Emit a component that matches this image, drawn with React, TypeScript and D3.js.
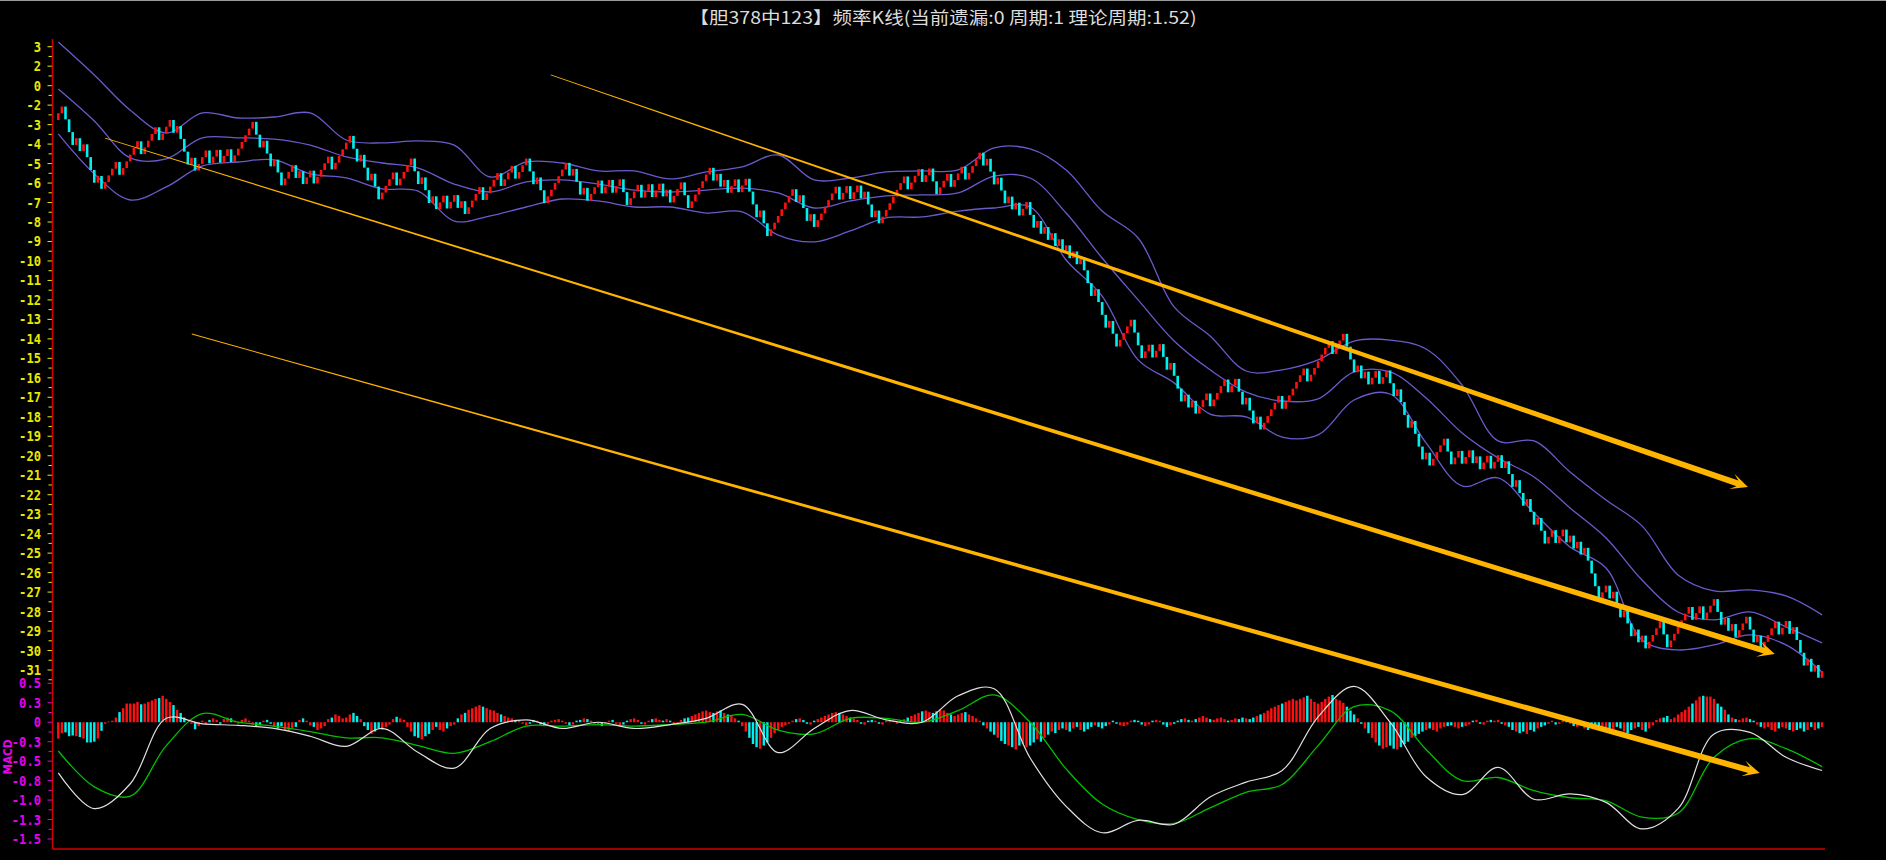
import { useEffect } from 'react'
import * as d3 from 'd3'

const TITLE = '【胆378中123】频率K线(当前遗漏:0 周期:1 理论周期:1.52)'

// one char per K bar: H = 中 (red, up), M = 遗漏 (cyan, down)
const stepsA = 'H' + 'HMMMHMHMMMHM' + 'HHHHMHHH' + 'HHMHHHHMHHH' + 'MHMMMHMHH' + 'HMHHMHHMHH' + 'HHHH' +
  'MMHMMHMMHH' + 'HMHMHHMH' + 'HHHMHHHH' + 'HMMHMMHMM' + 'HHHHMHHHH' + 'MMHMMHM'
const stepsB = 'HHMHH' + 'MHMH' + 'HHHMHHHH' + 'M' + 'HHHMHHH' + 'MMHMM' + 'HH' + 'HHHH' + 'MHMMHMH' +
  'HHMHHMH' + 'HMMH' + 'HHMH' + 'HMHHMHMHHH' + 'MM' + 'HHHHHH' + 'MHMHMH' + 'HMHH' + 'MMMHMM'
const stepsC = 'HHHHHHH' + 'MHMMHMH' + 'HHHHH' + 'MHHMHHMH' + 'MMHM' + 'HHHHH' + 'HHMHHHMHH' + 'MM' +
  'HHHMHHHMHHHH' + 'MHMMHMMHMHMHHM' + 'MHMHMHMHMHMHMH' + 'MMMHMMMHMM' + 'HHHH' + 'MMM' + 'HHMHH'
const stepsD = 'MMHMMMHM' + 'HMHHHMHHHHMHH' + 'MMHMMHM' + 'HHHHHMHHHHHHMHHHHHHMHHH' + 'MMMHMHM' + 'HHMHH' +
  'MMHMMMHMMMHM' + 'HHHH' + 'MM' + 'HHMHH' + 'MHM' + 'HHMHHMH'
const stepsE = 'MMHMMHMMHMMH' + 'HMHHMHMHMH' + 'MMMMHHMHMMHMMHMHM' + 'HHHHMMHHH' + 'HHHMHHMHHH' +
  'MMHMHMHHHMMHMH' + 'HHHMHHMH' + 'MMMHMHMH'

const START_OPEN = -2.76
const HIT_STEP = 0.344
const MISS_STEP = 0.657

const priceTickLabels = ['3', '2', '0', '-2', '-3', '-4', '-5', '-6', '-7', '-8', '-9', '-10', '-11', '-12',
  '-13', '-14', '-15', '-16', '-17', '-18', '-19', '-20', '-21', '-22', '-23', '-24', '-25', '-26', '-27',
  '-28', '-29', '-30', '-31']
const macdTickLabels = ['0.5', '0.3', '0', '-0.3', '-0.5', '-0.8', '-1.0', '-1.3', '-1.5']

// bollinger bands, one value every 10 bars
const bollUpper = [1.24, -0.45, -2.26, -3.43, -2.40, -2.66, -2.61, -2.40, -3.79, -3.94, -3.84, -4.05, -5.69,
  -4.92, -4.97, -5.38, -5.38, -5.79, -5.43, -5.17, -4.56, -5.84, -5.74, -5.43, -5.38, -5.33, -4.20, -4.25,
  -5.33, -7.44, -8.82, -12.36, -13.85, -15.65, -15.59, -15.08, -14.11, -14.06, -14.52, -16.37, -19.24,
  -19.24, -20.83, -22.27, -23.60, -26.12, -26.94, -26.89, -27.20, -28.17]
const bollMid = [-1.17, -2.81, -4.71, -4.76, -3.68, -3.68, -3.74, -4.05, -4.66, -4.97, -5.23, -6.05, -6.46,
  -5.94, -5.84, -6.05, -6.36, -6.46, -6.36, -6.26, -6.51, -7.28, -6.92, -6.66, -6.61, -6.51, -5.64, -5.74,
  -7.54, -9.85, -12.00, -14.11, -15.59, -16.73, -17.19, -17.08, -15.70, -15.70, -17.03, -18.83, -20.11,
  -21.09, -22.68, -24.22, -26.38, -28.02, -28.43, -28.02, -28.79, -29.61]
const bollLower = [-3.48, -5.53, -6.87, -6.20, -5.12, -4.92, -4.81, -5.53, -5.74, -6.30, -6.41, -7.95, -7.69,
  -7.23, -6.82, -6.92, -7.23, -7.23, -7.54, -7.48, -8.67, -9.02, -8.46, -7.79, -7.74, -7.44, -7.28, -7.23,
  -9.95, -11.80, -15.08, -16.26, -17.86, -18.01, -19.04, -18.93, -17.14, -16.83, -19.34, -21.55, -21.14,
  -22.94, -24.68, -25.76, -29.46, -29.97, -29.71, -29.20, -29.71, -31.10]

// MACD lines, one value every 10 bars
const difLine = [-0.65, -1.11, -0.79, 0.05, -0.02, -0.04, -0.08, -0.18, -0.31, -0.08, -0.39, -0.59, -0.08,
  0.03, -0.08, 0, -0.08, -0.03, 0.05, 0.23, -0.39, -0.08, 0.15, 0.03, 0, 0.34, 0.43, -0.46, -1.08, -1.42,
  -1.26, -1.31, -0.96, -0.77, -0.62, 0.07, 0.46, 0, -0.70, -0.93, -0.58, -0.99, -0.92, -1.03, -1.37, -1.11,
  -0.15, -0.13, -0.45, -0.62]
const deaLine = [-0.37, -0.83, -0.95, -0.30, 0.11, 0, -0.05, -0.12, -0.2, -0.2, -0.3, -0.4, -0.25, -0.05,
  -0.05, -0.03, -0.05, -0.03, 0, 0.1, -0.1, -0.15, 0.05, 0.05, 0, 0.15, 0.35, 0, -0.6, -1.05, -1.25, -1.3,
  -1.1, -0.9, -0.8, -0.3, 0.2, 0.15, -0.35, -0.75, -0.71, -0.88, -0.97, -1.01, -1.22, -1.17, -0.45, -0.21,
  -0.34, -0.57]

// MACD histogram, one value per bar
const macdHist = [
  -0.21, -0.14, -0.13, -0.18, -0.17, -0.18, -0.19, -0.21, -0.26, -0.26,
  -0.25, -0.21, -0.11, -0.02, 0.01, 0.02, 0.06, 0.13, 0.18, 0.24,
  0.24, 0.24, 0.26, 0.23, 0.24, 0.26, 0.28, 0.30, 0.31, 0.34,
  0.30, 0.26, 0.22, 0.16, 0.12, 0.06, 0.00, -0.02, -0.09, -0.05,
  0.02, -0.03, 0.03, 0.05, 0.03, -0.02, 0.04, 0.06, 0.05, 0.02,
  -0.02, 0.03, 0.05, 0.02, -0.03, -0.05, -0.04, 0.02, 0.03, -0.02,
  -0.06, -0.08, -0.05, -0.1, -0.12, -0.08, -0.06, 0.03, 0.05, 0.02,
  -0.04, -0.06, -0.1, -0.08, -0.05, 0.04, 0.06, 0.1, 0.08, 0.05,
  0.06, 0.1, 0.12, 0.08, 0.04, -0.05, -0.1, -0.15, -0.12, -0.08,
  -0.1, -0.06, -0.03, 0.04, 0.07, 0.05, 0.03, -0.06, -0.12, -0.18,
  -0.2, -0.22, -0.18, -0.15, -0.1, -0.06, -0.1, -0.12, -0.08, -0.05,
  -0.03, 0.05, 0.1, 0.12, 0.16, 0.18, 0.2, 0.22, 0.2, 0.18,
  0.16, 0.15, 0.12, 0.1, 0.08, 0.06, 0.05, 0.03, 0.02, -0.02,
  -0.04, -0.02, 0.03, 0.02, -0.03, -0.05, -0.02, 0.02, 0.03, 0.04,
  0.02, -0.02, -0.04, -0.03, 0.02, 0.03, 0.05, 0.04, 0.02, -0.02,
  -0.03, -0.05, -0.02, 0.02, 0.03, -0.02, -0.04, -0.03, 0.02, 0.04,
  0.05, 0.03, -0.02, -0.03, 0.02, 0.04, 0.05, 0.03, 0.02, 0.04,
  0.02, -0.03, -0.02, 0.03, 0.05, 0.06, 0.08, 0.1, 0.12, 0.14,
  0.15, 0.13, 0.12, 0.14, 0.15, 0.12, 0.1, 0.08, 0.05, 0.02,
  -0.05, -0.12, -0.2, -0.28, -0.32, -0.34, -0.3, -0.26, -0.2, -0.14,
  -0.1, -0.06, -0.04, -0.02, 0.02, 0.04, 0.05, 0.03, -0.02, -0.03,
  0.02, 0.04, 0.06, 0.08, 0.1, 0.12, 0.13, 0.12, 0.1, 0.08,
  0.06, 0.05, 0.03, -0.02, -0.03, 0.02, 0.03, 0.02, -0.02, -0.03,
  0.02, 0.03, 0.02, -0.02, 0.02, 0.04, 0.06, 0.08, 0.1, 0.12,
  0.14, 0.15, 0.13, 0.12, 0.14, 0.16, 0.15, 0.12, 0.1, 0.08,
  0.1, 0.12, 0.13, 0.1, 0.08, 0.05, 0.02, -0.04, -0.08, -0.12,
  -0.16, -0.2, -0.24, -0.28, -0.3, -0.32, -0.35, -0.3, -0.28, -0.32,
  -0.3, -0.26, -0.22, -0.25, -0.2, -0.16, -0.12, -0.14, -0.1, -0.08,
  -0.1, -0.12, -0.08, -0.06, -0.1, -0.12, -0.09, -0.06, -0.04, -0.06,
  -0.08, -0.05, -0.03, 0.02, -0.02, -0.04, -0.05, -0.03, 0.02, 0.03,
  0.02, -0.03, -0.05, -0.03, 0.02, 0.03, 0.02, -0.03, -0.06, -0.04,
  -0.02, 0.02, 0.04, 0.05, 0.03, 0.02, 0.04, 0.06, 0.08, 0.06,
  0.04, 0.03, 0.05, 0.06, 0.04, 0.02, 0.03, 0.05, 0.04, 0.06,
  0.05, 0.04, 0.06, 0.08, 0.1, 0.12, 0.15, 0.18, 0.2, 0.22,
  0.24, 0.26, 0.28, 0.3, 0.28, 0.3, 0.32, 0.34, 0.3, 0.26,
  0.24, 0.26, 0.3, 0.33, 0.35, 0.3, 0.28, 0.25, 0.2, 0.15,
  0.1, 0.05, -0.02, -0.08, -0.14, -0.2, -0.26, -0.3, -0.34, -0.32,
  -0.3, -0.34, -0.35, -0.32, -0.28, -0.25, -0.2, -0.18, -0.15, -0.12,
  -0.1, -0.08, -0.1, -0.12, -0.08, -0.06, -0.05, -0.04, -0.06, -0.08,
  -0.06, -0.05, -0.03, 0.02, 0.03, -0.02, -0.03, 0.02, 0.03, 0.02,
  0.03, -0.02, -0.04, -0.06, -0.1, -0.12, -0.14, -0.12, -0.15, -0.1,
  -0.12, -0.08, -0.06, -0.04, -0.02, 0.02, -0.03, -0.02, 0.02, 0.03,
  -0.02, -0.05, -0.06, -0.04, -0.08, -0.1, -0.06, -0.05, -0.08, -0.1,
  -0.08, -0.12, -0.1, -0.06, -0.08, -0.12, -0.14, -0.1, -0.08, -0.06,
  -0.1, -0.12, -0.08, -0.04, 0.03, 0.05, 0.06, 0.08, 0.04, 0.06,
  0.1, 0.13, 0.16, 0.2, 0.24, 0.28, 0.33, 0.34, 0.33, 0.33,
  0.3, 0.24, 0.2, 0.16, 0.1, 0.06, 0.04, 0.03, 0.05, 0.06,
  0.04, 0.02, -0.03, -0.06, -0.08, -0.06, -0.1, -0.12, -0.08, -0.06,
  -0.08, -0.1, -0.12, -0.1, -0.08, -0.12, -0.1, -0.06, -0.1, -0.08,
  -0.06,
]

// hand-drawn trend arrows: [bar index, value] start -> tip
const trendArrows = [
  { from: [136.8, -0.45], to: [469.4, -21.6] },
  { from: [13, -3.69], to: [476.9, -30.18] },
  { from: [37.1, -13.75], to: [472.7, -36.29] },
]

const BAND = '#6a5acd'
const UP = '#ff1010'
const DOWN = '#00f0f0'
const AXIS_RED = '#d00000'
const YELLOW = '#e8e800'
const MAGENTA = '#e800e8'
const ARROW = '#ffb400'
const MONO = '"DejaVu Sans Mono", monospace'

export default function App() {
  useEffect(() => {
    document.body.style.margin = '0'
    document.body.style.background = '#000'
  }, [])

  const steps = stepsA + stepsB + stepsC + stepsD + stepsE
  const n = steps.length
  const x = d3.scaleLinear().domain([0, n - 1]).range([58.3, 1822])
  const yP = d3.scaleLinear().domain([1, -31]).range([46.7, 670])
  const yM = d3.scaleLinear().domain([0.5, -1.5]).range([683.3, 839])

  let level = START_OPEN
  const bars = steps.split('').map((c, i) => {
    const open = level
    const up = c === 'H'
    const close = up ? open + HIT_STEP : open - MISS_STEP
    level = close
    return { i, open, close, up }
  })

  const sampleIdx = (arr: number[]) => arr.map((v, j) => [Math.min(j * 10, n - 1), v] as [number, number])
  const bandLine = d3.line<[number, number]>().x(d => x(d[0])).y(d => yP(d[1])).curve(d3.curveCatmullRom)
  const macdLine = d3.line<[number, number]>().x(d => x(d[0])).y(d => yM(d[1])).curve(d3.curveCatmullRom)

  const priceTicks = priceTickLabels.map((t, j) => ({ t, v: 1 - j }))
  const macdTicks = macdTickLabels.map((t, j) => ({ t, v: 0.5 - j * 0.25 }))
  const axisX = 52.5

  // tapered arrow polygon
  const arrowPath = (a: { from: number[]; to: number[] }) => {
    const x0 = x(a.from[0]), y0 = yP(a.from[1])
    const x1 = x(a.to[0]), y1 = yP(a.to[1])
    const len = Math.hypot(x1 - x0, y1 - y0)
    const ux = (x1 - x0) / len, uy = (y1 - y0) / len
    const nx = -uy, ny = ux
    const w0 = 0.4, w1 = 3, L = 17, W = 8, notch = 11
    const bx = x1 - ux * notch, by = y1 - uy * notch
    const hx = x1 - ux * L, hy = y1 - uy * L
    const pts = [
      [x0 + nx * w0, y0 + ny * w0],
      [bx + nx * w1, by + ny * w1],
      [hx + nx * W, hy + ny * W],
      [x1, y1],
      [hx - nx * W, hy - ny * W],
      [bx - nx * w1, by - ny * w1],
      [x0 - nx * w0, y0 - ny * w0],
    ]
    return 'M' + pts.map(p => p[0].toFixed(1) + ',' + p[1].toFixed(1)).join('L') + 'Z'
  }

  return (
    <svg width={1886} height={860} style={{ position: 'absolute', left: 0, top: 0, background: '#000', display: 'block' }}>
      <rect x={0} y={0} width={1886} height={860} fill="#000" />
      <line x1={0} x2={1886} y1={0.5} y2={0.5} stroke="#9a9a9a" />
      <text x={943} y={24} textAnchor="middle" fill="#dcdcdc" fontSize={17}
        fontFamily='"Noto Sans CJK SC", sans-serif' textLength={507} lengthAdjust="spacingAndGlyphs">{TITLE}</text>

      {/* price axis */}
      {priceTicks.map(d => (
        <g key={'p' + d.t + d.v}>
          <line x1={axisX - 5} x2={axisX} y1={yP(d.v)} y2={yP(d.v)} stroke={YELLOW} />
          <line x1={axisX - 4} x2={axisX} y1={yP(d.v - 0.5)} y2={yP(d.v - 0.5)} stroke={YELLOW} />
          <text x={41} y={yP(d.v) + 5} textAnchor="end" fill={YELLOW} fontSize={14} fontWeight="bold" fontFamily={MONO}
            textLength={d.t.length * 7.3} lengthAdjust="spacingAndGlyphs">{d.t}</text>
        </g>
      ))}
      {/* macd axis */}
      {macdTicks.map(d => (
        <g key={'m' + d.t}>
          <line x1={axisX - 5} x2={axisX} y1={yM(d.v)} y2={yM(d.v)} stroke={MAGENTA} />
          {d.v > -1.5 && <line x1={axisX - 4} x2={axisX} y1={yM(d.v - 0.125)} y2={yM(d.v - 0.125)} stroke={MAGENTA} />}
          <text x={41} y={yM(d.v) + 5} textAnchor="end" fill={MAGENTA} fontSize={14} fontWeight="bold" fontFamily={MONO}
            textLength={d.t.length * 7.3} lengthAdjust="spacingAndGlyphs">{d.t}</text>
        </g>
      ))}
      <text transform="translate(12,757) rotate(-90)" textAnchor="middle" fill={MAGENTA} fontSize={13}
        fontWeight="bold" fontFamily='"DejaVu Sans", sans-serif' textLength={35} lengthAdjust="spacingAndGlyphs">MACD</text>

      {/* bollinger */}
      {[bollUpper, bollMid, bollLower].map((arr, j) => (
        <path key={'b' + j} d={bandLine(sampleIdx(arr)) ?? ''} fill="none" stroke={BAND} strokeWidth={1.3} />
      ))}

      {/* K bars */}
      {bars.map(b => {
        const top = yP(Math.max(b.open, b.close))
        const bot = yP(Math.min(b.open, b.close))
        return <rect key={'k' + b.i} x={x(b.i) - 1.3} y={top} width={2.6} height={bot - top} fill={b.up ? UP : DOWN} />
      })}

      {/* MACD histogram */}
      {macdHist.map((v, i) => {
        const y0 = yM(0), y1 = yM(v)
        return <rect key={'h' + i} x={x(i) - 1.2} y={Math.min(y0, y1)} width={2.4} height={Math.abs(y1 - y0)}
          fill={bars[i] && bars[i].up ? UP : DOWN} />
      })}
      <path d={macdLine(sampleIdx(deaLine)) ?? ''} fill="none" stroke="#00c000" strokeWidth={1.3} />
      <path d={macdLine(sampleIdx(difLine)) ?? ''} fill="none" stroke="#e0e0e0" strokeWidth={1.2} />

      {/* frame */}
      <line x1={axisX} x2={axisX} y1={39} y2={849} stroke={AXIS_RED} strokeWidth={1.5} />
      <line x1={axisX} x2={1825} y1={849} y2={849} stroke={AXIS_RED} strokeWidth={1.5} />

      {trendArrows.map((a, j) => (
        <path key={'a' + j} d={arrowPath(a)} fill={ARROW} />
      ))}
    </svg>
  )
}
